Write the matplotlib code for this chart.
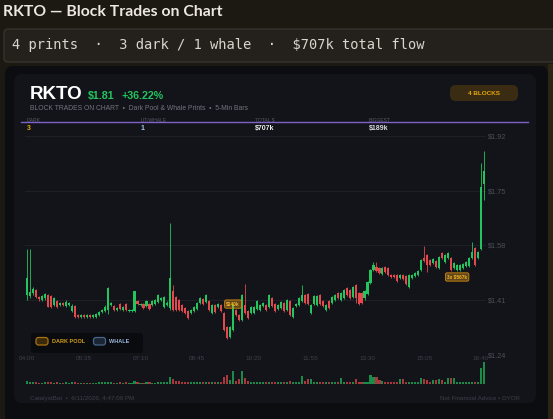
import numpy as np
import matplotlib.pyplot as plt
from matplotlib.patches import FancyBboxPatch

plt.rcParams['font.family'] = ['Liberation Sans', 'DejaVu Sans']

# 5-min bars, 04:00 -> 16:45
opens = [1.426, 1.423, 1.432, 1.442, 1.420, 1.411, 1.417, 1.426, 1.423, 1.395,
         1.407, 1.395, 1.401, 1.392, 1.395, 1.376, 1.392, 1.364, 1.358, 1.364,
         1.358, 1.364, 1.358, 1.358, 1.364, 1.373, 1.376, 1.380, 1.395, 1.392,
         1.380, 1.398, 1.380, 1.398, 1.376, 1.376, 1.376, 1.407, 1.395, 1.398,
         1.392, 1.398, 1.395, 1.398, 1.404, 1.411, 1.389, 1.395, 1.386, 1.438,
         1.420, 1.411, 1.395, 1.386, 1.376, 1.370, 1.376, 1.383, 1.401, 1.414,
         1.404, 1.407, 1.370, 1.395, 1.389, 1.395, 1.370, 1.327, 1.296, 1.318,
         1.380, 1.364, 1.348, 1.395, 1.376, 1.370, 1.370, 1.383, 1.380, 1.392,
         1.395, 1.389, 1.417, 1.398, 1.383, 1.386, 1.401, 1.380, 1.407, 1.358,
         1.392, 1.395, 1.407, 1.426, 1.429, 1.370, 1.398, 1.395, 1.426, 1.407,
         1.380, 1.407, 1.401, 1.411, 1.432, 1.411, 1.417, 1.448, 1.442, 1.420,
         1.457, 1.432, 1.432, 1.417, 1.429, 1.463, 1.504, 1.513, 1.510, 1.491,
         1.513, 1.510, 1.488, 1.488, 1.488, 1.479, 1.488, 1.485, 1.451, 1.479,
         1.485, 1.488, 1.504, 1.541, 1.550, 1.535, 1.525, 1.531, 1.510, 1.556,
         1.528, 1.541, 1.541, 1.510, 1.504, 1.504, 1.510, 1.516, 1.516, 1.541,
         1.572, 1.541, 1.569, 1.770]
closes = [1.479, 1.435, 1.445, 1.420, 1.414, 1.423, 1.429, 1.389, 1.389, 1.417,
          1.389, 1.401, 1.395, 1.404, 1.401, 1.392, 1.358, 1.358, 1.364, 1.358,
          1.364, 1.358, 1.364, 1.367, 1.373, 1.380, 1.389, 1.448, 1.401, 1.380,
          1.386, 1.383, 1.389, 1.380, 1.380, 1.380, 1.438, 1.398, 1.398, 1.386,
          1.407, 1.383, 1.407, 1.411, 1.426, 1.417, 1.420, 1.401, 1.479, 1.380,
          1.380, 1.380, 1.376, 1.370, 1.355, 1.380, 1.389, 1.401, 1.417, 1.398,
          1.426, 1.380, 1.395, 1.373, 1.398, 1.376, 1.318, 1.293, 1.327, 1.395,
          1.364, 1.348, 1.426, 1.370, 1.355, 1.389, 1.389, 1.407, 1.395, 1.401,
          1.380, 1.426, 1.392, 1.376, 1.395, 1.404, 1.376, 1.411, 1.364, 1.386,
          1.398, 1.417, 1.426, 1.401, 1.398, 1.395, 1.423, 1.423, 1.398, 1.392,
          1.395, 1.386, 1.420, 1.426, 1.417, 1.432, 1.442, 1.426, 1.417, 1.451,
          1.417, 1.398, 1.401, 1.438, 1.466, 1.504, 1.519, 1.500, 1.494, 1.510,
          1.497, 1.488, 1.482, 1.482, 1.469, 1.488, 1.476, 1.460, 1.488, 1.488,
          1.494, 1.500, 1.535, 1.531, 1.519, 1.519, 1.538, 1.513, 1.544, 1.541,
          1.550, 1.556, 1.504, 1.525, 1.519, 1.519, 1.522, 1.528, 1.541, 1.559,
          1.519, 1.559, 1.761, 1.810]
highs = [1.569, 1.569, 1.451, 1.445, 1.423, 1.426, 1.432, 1.429, 1.426, 1.420,
         1.411, 1.404, 1.404, 1.411, 1.404, 1.398, 1.395, 1.367, 1.367, 1.367,
         1.367, 1.367, 1.367, 1.370, 1.376, 1.383, 1.395, 1.451, 1.404, 1.395,
         1.389, 1.401, 1.392, 1.401, 1.383, 1.383, 1.438, 1.411, 1.401, 1.401,
         1.411, 1.401, 1.411, 1.414, 1.429, 1.420, 1.423, 1.407, 1.649, 1.457,
         1.423, 1.414, 1.398, 1.389, 1.380, 1.383, 1.392, 1.404, 1.420, 1.417,
         1.429, 1.411, 1.398, 1.398, 1.401, 1.398, 1.373, 1.330, 1.330, 1.398,
         1.383, 1.367, 1.429, 1.460, 1.380, 1.392, 1.392, 1.411, 1.398, 1.404,
         1.398, 1.429, 1.420, 1.401, 1.398, 1.407, 1.404, 1.414, 1.411, 1.389,
         1.401, 1.420, 1.457, 1.429, 1.432, 1.398, 1.426, 1.426, 1.429, 1.411,
         1.398, 1.411, 1.423, 1.429, 1.435, 1.435, 1.445, 1.451, 1.445, 1.454,
         1.460, 1.435, 1.435, 1.442, 1.469, 1.507, 1.528, 1.528, 1.513, 1.513,
         1.516, 1.513, 1.491, 1.491, 1.491, 1.491, 1.491, 1.488, 1.491, 1.491,
         1.497, 1.504, 1.538, 1.578, 1.553, 1.538, 1.541, 1.535, 1.547, 1.559,
         1.553, 1.559, 1.544, 1.528, 1.522, 1.522, 1.525, 1.531, 1.544, 1.590,
         1.575, 1.562, 1.835, 1.872]
lows = [1.411, 1.417, 1.426, 1.417, 1.407, 1.407, 1.411, 1.389, 1.386, 1.392,
        1.386, 1.392, 1.392, 1.389, 1.392, 1.373, 1.355, 1.355, 1.355, 1.355,
        1.355, 1.355, 1.355, 1.355, 1.361, 1.370, 1.373, 1.367, 1.392, 1.376,
        1.376, 1.380, 1.376, 1.376, 1.373, 1.373, 1.373, 1.395, 1.392, 1.383,
        1.389, 1.380, 1.392, 1.395, 1.401, 1.407, 1.386, 1.392, 1.380, 1.376,
        1.376, 1.376, 1.373, 1.367, 1.352, 1.367, 1.373, 1.380, 1.398, 1.395,
        1.401, 1.376, 1.367, 1.370, 1.386, 1.373, 1.314, 1.290, 1.293, 1.314,
        1.361, 1.345, 1.345, 1.367, 1.352, 1.367, 1.367, 1.380, 1.376, 1.389,
        1.376, 1.386, 1.389, 1.373, 1.380, 1.383, 1.373, 1.376, 1.361, 1.355,
        1.389, 1.392, 1.404, 1.398, 1.395, 1.367, 1.395, 1.392, 1.395, 1.389,
        1.376, 1.383, 1.398, 1.407, 1.414, 1.407, 1.414, 1.423, 1.414, 1.417,
        1.401, 1.395, 1.398, 1.411, 1.426, 1.460, 1.500, 1.497, 1.491, 1.488,
        1.494, 1.485, 1.479, 1.479, 1.466, 1.476, 1.472, 1.457, 1.448, 1.476,
        1.482, 1.485, 1.500, 1.528, 1.497, 1.516, 1.522, 1.510, 1.507, 1.538,
        1.525, 1.538, 1.500, 1.507, 1.500, 1.500, 1.507, 1.513, 1.513, 1.538,
        1.516, 1.538, 1.566, 1.721]
volume = [25, 20, 15, 15, 10, 10, 12, 18, 15, 10,
          12, 10, 10, 12, 10, 15, 18, 10, 8, 8,
          8, 8, 8, 10, 12, 12, 15, 20, 12, 10,
          10, 12, 10, 12, 8, 8, 25, 12, 10, 10,
          12, 12, 10, 10, 15, 12, 15, 12, 70, 50,
          30, 25, 20, 18, 20, 15, 12, 15, 15, 12,
          15, 15, 15, 12, 12, 15, 70, 90, 40, 130,
          30, 50, 130, 60, 30, 20, 20, 15, 15, 12,
          12, 20, 15, 12, 12, 12, 15, 15, 30, 15,
          15, 20, 80, 30, 50, 50, 20, 15, 15, 12,
          12, 12, 12, 15, 15, 60, 20, 15, 15, 15,
          50, 20, 15, 15, 20, 90, 70, 70, 40, 30,
          15, 12, 12, 12, 12, 50, 50, 15, 20, 15,
          15, 20, 60, 50, 40, 20, 40, 40, 50, 40,
          20, 60, 60, 60, 15, 15, 15, 15, 20, 20,
          20, 20, 160, 220]

time_labels = ['04:00', '05:35', '07:10', '08:45', '10:20', '11:55', '13:30', '15:05', '16:40']
price_ticks = [1.24, 1.41, 1.58, 1.75, 1.92]

# block prints: bar index, price, label
block_bars = [69, 144]
block_prices = [1.398, 1.482]
block_labels = ['$140k', '3x $567k']

stat_names = ['DARK', 'LIT/WHALE', 'TOTAL $', 'BIGGEST']
stat_values = ['3', '1', '$707k', '$189k']
stat_colors = ['#e5a50a', '#a9c4ea', '#eeeeee', '#d5d8de']

GREEN = '#22c55e'
RED = '#e5484d'

W, H = 553, 419
fig = plt.figure(figsize=(W / 100, H / 100), dpi=100, facecolor='#1c1812')
bg = fig.add_axes([0, 0, 1, 1])
bg.set_xlim(0, W)
bg.set_ylim(H, 0)
bg.axis('off')


def rbox(x0, y0, x1, y1, r, fc, ec='none', lw=0, z=1):
    bg.add_patch(FancyBboxPatch((x0, y0), x1 - x0, y1 - y0,
                                boxstyle=f'round,pad=0,rounding_size={r}',
                                fc=fc, ec=ec, lw=lw, zorder=z))


def px_axes(x0, y0, x1, y1):
    return fig.add_axes([x0 / W, 1 - y1 / H, (x1 - x0) / W, (y1 - y0) / H])


# page header
bg.text(3, 16.5, 'RKTO — Block Trades on Chart', family='Lato', fontweight='bold',
        fontsize=11.3, color='#ece8e0', va='baseline')
rbox(4, 29, 560, 62, 4, '#24211d', '#3b3732', 0.8)
bg.text(12.5, 45.5, '4 prints  ·  3 dark / 1 whale  ·  $707k total flow',
        family='DejaVu Sans Mono', fontsize=9.9, color='#d9d5cd', va='center')

# card
rbox(5, 66, 548, 425, 8, '#0c0d11')
rbox(14, 74, 536, 403, 8, '#13141a', z=2)
bg.add_patch(plt.Rectangle((547.5, 64), 6, 360, fc='#2e2416', zorder=1))

bg.text(30, 98.5, 'RKTO', fontweight='bold', fontsize=13.5, color='white', va='baseline', zorder=5)
bg.text(88, 98.5, '$1.81', fontweight='bold', fontsize=7.7, color=GREEN, va='baseline', zorder=5)
bg.text(122, 98.5, '+36.22%', fontweight='bold', fontsize=7.7, color=GREEN, va='baseline', zorder=5)
bg.text(30, 108.5, 'BLOCK TRADES ON CHART  •  Dark Pool & Whale Prints  •  5-Min Bars',
        fontsize=4.85, color='#71747f', va='center', zorder=5)

rbox(450, 85, 518, 101, 6, '#3a2c13', z=4)
bg.text(484, 93.2, '4 BLOCKS', fontweight='bold', fontsize=4.6, color='#e5a50a',
        ha='center', va='center', zorder=5)

for sx, name, val, col in zip([27, 141, 255, 369], stat_names, stat_values, stat_colors):
    bg.text(sx, 120, name, fontsize=3.6, color='#555865', va='center', zorder=4)
    bg.text(sx, 128, val, fontsize=5, fontweight='bold', color=col, va='center', zorder=5)
bg.plot([21, 528], [122.5, 122.5], color='#7d62c9', lw=1.0, zorder=5)

# legend
rbox(31, 333, 143, 353, 3, '#0a0b0e', z=6)
rbox(36, 337.5, 48, 345, 2.5, '#3a2a0a', '#a8720e', 0.9, z=7)
bg.text(52, 341.5, 'DARK POOL', fontsize=4.0, fontweight='bold', color='#d4a017', va='center', zorder=7)
rbox(93.5, 337.5, 105.5, 345, 2.5, '#1b2533', '#46648c', 0.9, z=7)
bg.text(109, 341.5, 'WHALE', fontsize=4.0, fontweight='bold', color='#9ab5dd', va='center', zorder=7)

# footer
bg.text(30, 398, 'CatalystBot  •  6/11/2026, 4:47:06 PM', fontsize=4.5, color='#3c3f49', va='center', zorder=5)
bg.text(520, 398, 'Not Financial Advice • DYOR', fontsize=4.5, color='#3c3f49',
        va='center', ha='right', zorder=5)

# price chart
n = len(closes)
idx = np.arange(n)
o = np.array(opens)
c = np.array(closes)
up = c >= o
cols = [GREEN if u else RED for u in up]

ax = px_axes(25, 133, 486, 355)
ax.patch.set_alpha(0)
ax.set_xlim(-0.67, 153.67)
ax.set_ylim(1.24, 1.9287)
for p in price_ticks:
    ax.axhline(p, color='#1e1f27', lw=0.8, zorder=0)
ax.vlines(idx, lows, highs, colors=cols, lw=0.6, zorder=2)
ax.bar(idx, np.maximum(np.abs(c - o), 0.002), bottom=np.minimum(o, c), width=0.7,
       color=cols, lw=0, zorder=3)
for b, p, lab in zip(block_bars, block_prices, block_labels):
    ax.text(b, p, lab, fontsize=3.4, fontweight='bold', color='#f5b820', ha='center', va='center',
            zorder=6, bbox=dict(boxstyle='round,pad=0.35', fc=(0.96, 0.65, 0.14, 0.35),
                                ec='#d08a0a', lw=0.6))
ax.yaxis.tick_right()
ax.set_yticks(price_ticks)
ax.set_yticklabels([f'${p:.2f}' for p in price_ticks], fontsize=5.3, color='#4b4e58')
ax.set_xticks(idx[::19])
ax.set_xticklabels(time_labels, fontsize=4.6, color='#3d404a')
ax.tick_params(length=0, pad=1.5)
ax.tick_params(axis='x', pad=0.5)
for s in ax.spines.values():
    s.set_visible(False)

# volume
vax = px_axes(25, 358, 486, 383.5)
vax.patch.set_alpha(0)
vax.set_xlim(-0.67, 153.67)
vax.set_ylim(0, 260)
vcols = ['#1c8a48' if u else '#a8383c' for u in up]
vax.bar(idx, volume, width=0.7, color=vcols, lw=0)
vax.axis('off')

fig.savefig('out.png', dpi=100, facecolor=fig.get_facecolor())
